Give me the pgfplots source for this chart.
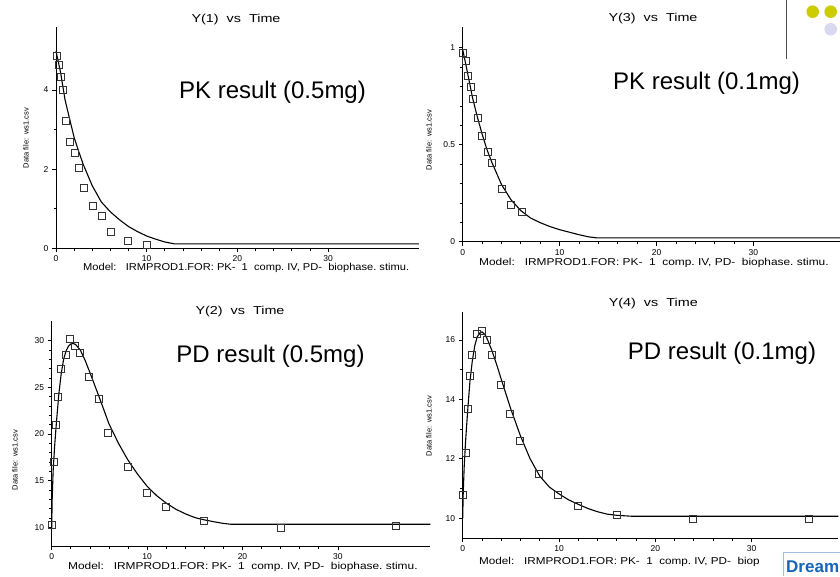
\documentclass[border=0pt]{standalone}
\usepackage{fontspec}
\setmainfont{Liberation Sans}
\usepackage{pgfplots}
\pgfplotsset{compat=1.18}

\definecolor{dotyellow}{HTML}{CCCC00}
\definecolor{dotlav}{HTML}{D8D8EE}
\definecolor{dreamblue}{HTML}{1565B8}

\pgfplotsset{
  pkpd/.style={
    scale only axis, axis lines=left, axis line style={-, line width=0.9pt},
    tick align=outside, major tick length=4pt, minor tick length=2.5pt,
    every tick/.style={black, line width=0.7pt},
    xtick={0,10,20,30}, minor x tick num=4, xmin=0,
    tick label style={font=\fontsize{8.5}{9}\selectfont},
    /pgf/number format/assume math mode=true,
    anchor=south west, clip=false,
  },
  fit/.style={black, line width=1.1pt, no marks},
  obs/.style={only marks, mark=square, mark size=3.5pt,
    mark options={draw=black!80, line width=0.8pt}},
}

\newcommand\ttl[1]{\scalebox{1.25}[1]{\fontsize{11.5}{12}\selectfont #1}}
\newcommand\bigtxt[1]{{\fontsize{24}{26}\selectfont #1}}
\newcommand\mdl[2]{\scalebox{#1}[1]{\fontsize{10}{11}\selectfont #2}}
\newcommand\ylab{\fontsize{7.5}{8}\selectfont Data file:\ \ ws1.csv}

\begin{document}
\begin{tikzpicture}[x=1pt,y=1pt]
\path[use as bounding box] (0,0) rectangle (840,576);
\clip (0,0) rectangle (840,576);

% ---- top left: Y(1), PK 0.5 mg
\begin{axis}[pkpd, at={(56pt,327.7pt)}, width=362.8pt, height=221.6pt,
  xmax=40, ymin=0, ymax=5.6, ytick={0,2,4}, minor y tick num=1]
\addplot[fit] coordinates {
 (0,4.98) (0.5,4.45) (1,3.75) (1.5,3.27) (2,2.80) (2.5,2.45) (3,2.12)
 (4,1.58) (5,1.17) (6,0.92) (7,0.72) (8,0.55) (9,0.42) (10,0.31)
 (11,0.23) (12,0.16) (13.1,0.11) (40,0.11)};
\addplot[obs] coordinates {
 (0.1,4.85) (0.37,4.63) (0.52,4.34) (0.81,4.0) (1.1,3.22) (1.55,2.68)
 (2.1,2.42) (2.55,2.03) (3.1,1.52) (4.1,1.07) (5.1,0.83) (6.0,0.41)
 (7.9,0.18) (10.0,0.08)};
\end{axis}

% ---- top right: Y(3), PK 0.1 mg
\begin{axis}[pkpd, at={(462.7pt,334.3pt)}, width=377.9pt, height=215pt,
  xmax=39, ymin=0, ymax=1.108, ytick={0,0.5,1}, minor y tick num=4]
\addplot[fit] coordinates {
 (0,0.99) (0.5,0.87) (1,0.745) (1.5,0.645) (2,0.555) (2.5,0.475) (3,0.41)
 (4,0.295) (5,0.215) (6,0.16) (7,0.122) (8,0.098) (9,0.078) (10,0.062)
 (11,0.049) (12,0.036) (13,0.025) (13.8,0.02) (39,0.02)};
\addplot[obs] coordinates {
 (0.07,0.971) (0.34,0.931) (0.58,0.857) (0.83,0.796) (1.03,0.735)
 (1.55,0.637) (2.03,0.545) (2.58,0.462) (3.03,0.404) (4.02,0.273)
 (5.02,0.192) (6.09,0.153)};
\end{axis}

% ---- bottom left: Y(2), PD 0.5 mg
\begin{axis}[pkpd, at={(51.7pt,30pt)}, width=378.7pt, height=224.9pt,
  xmax=39.7, ymin=8, ymax=32.1, ytick={10,15,20,25,30}, minor y tick num=4]
\addplot[fit] coordinates {
 (0,9.9) (0.05,13) (0.15,16) (0.3,18.6) (0.5,21.3) (0.75,24.3) (1,26.5)
 (1.25,28.0) (1.5,28.9) (1.75,29.4) (2,29.65) (2.25,29.7) (2.5,29.6)
 (3,29.0) (3.5,27.9) (4,26.6) (5,23.9) (6,21.1) (7,19.0) (8,17.2)
 (9,15.7) (10,14.4) (11,13.4) (12,12.6) (13,11.95) (14,11.45) (15,11.05)
 (16,10.8) (17,10.6) (18,10.42) (18.8,10.33) (39.7,10.33)};
\addplot[obs] coordinates {
 (0.05,10.25) (0.28,16.96) (0.45,21.0) (0.7,24.0) (0.98,26.93) (1.47,28.46)
 (1.92,30.14) (2.45,29.46) (2.97,28.68) (3.95,26.07) (4.9,23.75)
 (5.94,20.07) (7.94,16.43) (9.97,13.71) (11.96,12.18) (15.98,10.68)
 (24.0,9.93) (36.1,10.14)};
\end{axis}

% ---- bottom right: Y(4), PD 0.1 mg
\begin{axis}[pkpd, at={(462.7pt,37.8pt)}, width=375.6pt, height=225.9pt,
  xmax=39, ymin=9.33, ymax=16.93, ytick={10,12,14,16}, minor y tick num=1]
\addplot[fit] coordinates {
 (0,10.0) (0.05,10.8) (0.15,11.7) (0.3,12.6) (0.5,13.55) (0.75,14.6)
 (1,15.3) (1.25,15.8) (1.5,16.1) (1.75,16.23) (2,16.27) (2.25,16.2)
 (2.5,16.07) (3,15.67) (3.5,15.2) (4,14.68) (5,13.67) (6,12.77) (7,12.0)
 (8,11.42) (9,11.05) (10,10.82) (11,10.62) (12,10.47) (13,10.33)
 (14,10.22) (15,10.14) (16,10.1) (17,10.08) (17.5,10.07) (39,10.07)};
\addplot[obs] coordinates {
 (0.07,10.79) (0.31,12.19) (0.52,13.69) (0.76,14.8) (1.0,15.51)
 (1.45,16.2) (1.97,16.29) (2.49,16.01) (3.0,15.51) (3.94,14.49)
 (4.91,13.51) (5.95,12.61) (7.96,11.48) (9.93,10.79) (11.97,10.42)
 (15.99,10.1) (23.9,9.99) (35.9,9.99)};
\end{axis}

% ---- titles, labels and slide text
\node at (236,556) {\ttl{Y(1)\ \ vs\ \ Time}};
\node at (653,557.7) {\ttl{Y(3)\ \ vs\ \ Time}};
\node at (240,264.3) {\ttl{Y(2)\ \ vs\ \ Time}};
\node at (653.3,272.7) {\ttl{Y(4)\ \ vs\ \ Time}};

\node at (272.5,484) {\bigtxt{PK result (0.5mg)}};
\node at (706.5,493) {\bigtxt{PK result (0.1mg)}};
\node at (270.5,219.3) {\bigtxt{PD result (0.5mg)}};
\node at (722,222.7) {\bigtxt{PD result (0.1mg)}};

\node[anchor=west,inner sep=0pt] at (83,308) {\mdl{1.11}{Model:\ \ \ IRMPROD1.FOR:\ PK-\ \ 1\ \ comp.\ IV,\ PD-\ \ biophase.\ stimu.}};
\node[anchor=west,inner sep=0pt] at (479,313) {\mdl{1.19}{Model:\ \ \ IRMPROD1.FOR:\ PK-\ \ 1\ \ comp.\ IV,\ PD-\ \ biophase.\ stimu.}};
\node[anchor=west,inner sep=0pt] at (68,9.3) {\mdl{1.19}{Model:\ \ \ IRMPROD1.FOR:\ PK-\ \ 1\ \ comp.\ IV,\ PD-\ \ biophase.\ stimu.}};
\node[anchor=west,inner sep=0pt] at (479,14.3) {\mdl{1.17}{Model:\ \ \ IRMPROD1.FOR:\ PK-\ \ 1\ \ comp.\ IV,\ PD-\ \ biop}};

\node[rotate=90] at (26,438) {\ylab};
\node[rotate=90] at (429,436) {\ylab};
\node[rotate=90] at (15,116) {\ylab};
\node[rotate=90] at (429,150) {\ylab};

% ---- slide decoration
\draw[black!70, line width=1.5pt] (786.7,576) -- (786.7,517);
\fill[dotyellow] (812.7,564.3) circle (6.3);
\fill[dotyellow] (830.7,564.3) circle (6.3);
\fill[dotlav] (830.7,546.7) circle (6.3);
\draw[dreamblue!40, line width=0.8pt] (783,0) -- (783,24) -- (845,24);
\node[anchor=west, inner sep=0pt, text=dreamblue] at (786,9)
  {\fontsize{17}{18}\selectfont\bfseries Dream};
\end{tikzpicture}
\end{document}
